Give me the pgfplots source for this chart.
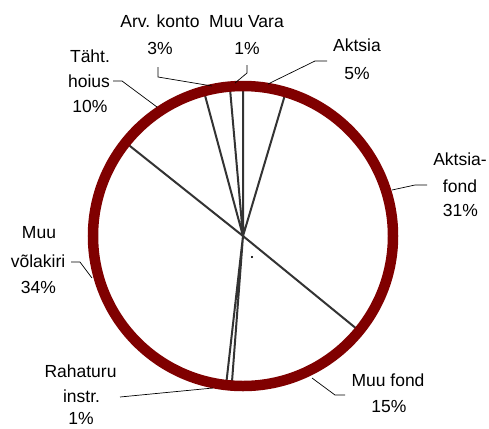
\documentclass[border=0pt]{standalone}
\usepackage{fontspec}
\setmainfont{Liberation Sans}
\usepackage{pgfplots}
\usepackage{pgfplotstable}
\usepgfplotslibrary{polar}
\pgfplotsset{compat=1.18}
\definecolor{ring}{RGB}{128,0,0}
\definecolor{spoke}{RGB}{51,51,51}

% slice boundaries, cumulative percent clockwise from 12 o'clock
\pgfplotstableread{
cum r
0 0
0 1
4.6 0
4.6 1
35.9 0
35.9 1
51.2 0
51.2 1
51.8 0
51.8 1
85.7 0
85.7 1
95.8 0
95.8 1
98.6 0
98.6 1
}\spokes

\tikzset{
  lbl/.style={anchor=base, inner sep=0pt, font=\fontsize{17.5}{20}\selectfont},
  ld/.style={black, line width=0.7pt},
}

\begin{document}
\begin{tikzpicture}
\begin{scope}[x=1pt,y=-1pt]
\path (0,0) rectangle (489,428);
\end{scope}
\begin{polaraxis}[at={(243pt,-236pt)}, anchor=center, scale only axis,
  width=300pt, height=300pt, ymin=0, ymax=1, xtick=\empty, ytick=\empty,
  axis on top, hide y axis,
  x axis line style={draw=ring, line width=10.5pt}, clip=false]
\addplot[spoke, line width=2pt, no marks] table[x expr={90-3.6*\thisrow{cum}}, y=r] {\spokes};
\addplot[only marks, mark=*, mark size=0.8pt, black] coordinates {(-66.8,0.152)};
\end{polaraxis}
\begin{scope}[x=1pt,y=-1pt]
\node[lbl] at (160,28) {Arv. konto};
\node[lbl] at (160,54) {3\%};
\node[lbl] at (246.5,28) {Muu Vara};
\node[lbl] at (247,54) {1\%};
\node[lbl] at (357,52) {Aktsia};
\node[lbl] at (357,79) {5\%};
\node[lbl] at (460,165) {Aktsia-};
\node[lbl] at (460,192) {fond};
\node[lbl] at (460.5,216) {31\%};
\node[lbl] at (388,386) {Muu fond};
\node[lbl] at (389,412) {15\%};
\node[lbl] at (80.5,377) {Rahaturu};
\node[lbl] at (81.5,402) {instr.};
\node[lbl] at (81,424) {1\%};
\node[lbl] at (39,238) {Muu};
\node[lbl] at (38,267) {võlakiri};
\node[lbl] at (38.5,293) {34\%};
\node[lbl] at (90,62) {Täht.};
\node[lbl] at (89,87) {hoius};
\node[lbl] at (90,112) {10\%};
\draw[ld] (158,67) -- (158,77) -- (212,86);
\draw[ld] (247,65) -- (247,73) -- (235,83);
\draw[ld] (327,61) -- (315,61) -- (268,84);
\draw[ld] (427,185) -- (415,185) -- (392,190);
\draw[ld] (345,395) -- (335,395) -- (312,378);
\draw[ld] (120,397) -- (213,388);
\draw[ld] (71,262) -- (80,262) -- (92,278);
\draw[ld] (113,81) -- (122,81) -- (157,107);
\end{scope}
\end{tikzpicture}
\end{document}
